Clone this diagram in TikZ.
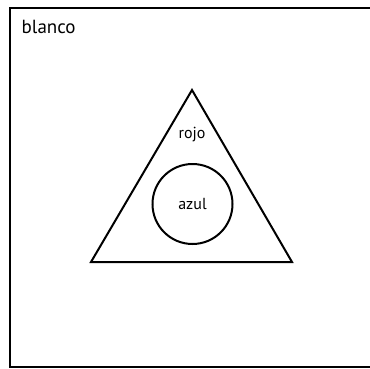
\documentclass[tikz,border=0pt]{standalone}
\usepackage{fontspec}
\setmainfont{PT Sans}
\begin{document}
\begin{tikzpicture}[
        x=1pt,
        y=-1pt,
        frame/.style={line width=2pt},
        shapeline/.style={line width=2pt, line join=miter},
        setlabel/.style={font=\fontsize{16}{18}\selectfont, inner sep=1pt},
        outerlabel/.style={font=\fontsize{19}{21}\selectfont, anchor=west, inner sep=1pt}
      ]
        \useasboundingbox (0,0) rectangle (370,368);
        \clip (0,0) rectangle (370,368);
        \draw[frame] (9.5,8) rectangle (380,367);
        \node[outerlabel] (blanco) at (20.5,27) {blanco};

        \coordinate (apex) at (192,90);
        \coordinate (left) at (91,262);
        \coordinate (right) at (292,262);
        \draw[shapeline] (apex) -- (left) -- (right) -- cycle;
        \node[setlabel] (rojo) at (192,135) {rojo};

        \node[shapeline, draw, circle, minimum size=80pt, inner sep=0pt] (circ) at (192.5,204) {};
        \node[setlabel] (azul) at (circ.center) {azul};
      \end{tikzpicture}
\end{document}
